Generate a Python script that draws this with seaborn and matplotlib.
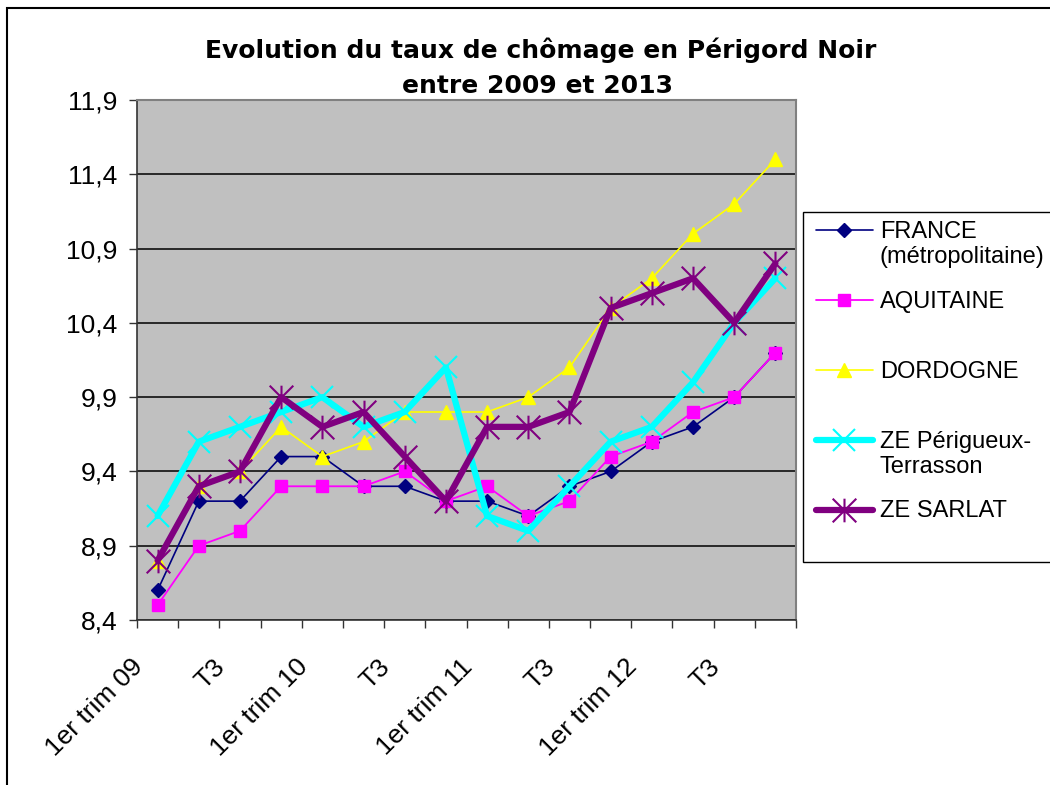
import numpy as np
import matplotlib
matplotlib.use("Agg")
import matplotlib.pyplot as plt
from matplotlib.path import Path
from matplotlib.patches import Rectangle
from matplotlib.ticker import FixedLocator, FuncFormatter, NullFormatter
from matplotlib.legend_handler import HandlerLine2D
from matplotlib.transforms import ScaledTranslation
import seaborn as sns

# ---------------- data ----------------
quarters = ["1er trim 09", "T2 09", "T3", "T4 09",
            "1er trim 10", "T2 10", "T3", "T4 10",
            "1er trim 11", "T2 11", "T3", "T4 11",
            "1er trim 12", "T2 12", "T3", "T4 12"]
tick_labels = ["1er trim 09", "T3", "1er trim 10", "T3",
               "1er trim 11", "T3", "1er trim 12", "T3"]

france = [8.6, 9.2, 9.2, 9.5, 9.5, 9.3, 9.3, 9.2,
          9.2, 9.1, 9.3, 9.4, 9.6, 9.7, 9.9, 10.2]
aquitaine = [8.5, 8.9, 9.0, 9.3, 9.3, 9.3, 9.4, 9.2,
             9.3, 9.1, 9.2, 9.5, 9.6, 9.8, 9.9, 10.2]
dordogne = [8.8, 9.3, 9.4, 9.7, 9.5, 9.6, 9.8, 9.8,
            9.8, 9.9, 10.1, 10.5, 10.7, 11.0, 11.2, 11.5]
ze_perigueux = [9.1, 9.6, 9.7, 9.8, 9.9, 9.7, 9.8, 10.1,
                9.1, 9.0, 9.3, 9.6, 9.7, 10.0, 10.4, 10.7]
ze_sarlat = [8.8, 9.3, 9.4, 9.9, 9.7, 9.8, 9.5, 9.2,
             9.7, 9.7, 9.8, 10.5, 10.6, 10.7, 10.4, 10.8]

series_names = ["FRANCE\n(métropolitaine)", "AQUITAINE", "DORDOGNE",
                "ZE Périgueux-\nTerrasson", "ZE SARLAT"]
y_ticks = [8.4, 8.9, 9.4, 9.9, 10.4, 10.9, 11.4, 11.9]

# ---------------- style ----------------
sns.set_theme(style="white")
plt.rcParams["font.family"] = ["Liberation Sans", "DejaVu Sans"]
plt.rcParams["text.color"] = "black"
plt.rcParams["xtick.color"] = "black"
plt.rcParams["ytick.color"] = "black"

fig = plt.figure(figsize=(10.5, 7.85), dpi=100)
ax = fig.add_axes([137 / 1050, 1 - 620 / 785, (796 - 137) / 1050, (620 - 100) / 785])
ax.set_facecolor("#C0C0C0")

star = Path([(0, -1), (0, 1), (-1, -1), (1, 1), (-1, 1), (1, -1)],
            [Path.MOVETO, Path.LINETO, Path.MOVETO, Path.LINETO, Path.MOVETO, Path.LINETO])

styles = [
    dict(color="#000080", marker="D", lw=1.2, ms=7.5, mew=1),
    dict(color="#FF00FF", marker="s", lw=1.3, ms=8.5, mew=1),
    dict(color="#FFFF00", marker="^", lw=1.2, ms=10.5, mew=1),
    dict(color="#00FFFF", marker="x", lw=4.5, ms=16, mew=1.5),
    dict(color="#800080", marker=star, lw=4.5, ms=17, mew=1.5),
]
all_series = [france, aquitaine, dordogne, ze_perigueux, ze_sarlat]
xpos = np.arange(len(quarters))

for name, vals, st in zip(series_names, all_series, styles):
    sns.lineplot(x=xpos, y=np.array(vals), ax=ax, color=st["color"],
                 marker=st["marker"], linewidth=st["lw"], markersize=st["ms"],
                 markeredgecolor=st["color"], markerfacecolor=st["color"],
                 markeredgewidth=st["mew"], label=name, sort=False, zorder=3)

# axes
ax.set_yticks(y_ticks)
ax.yaxis.set_major_formatter(FuncFormatter(lambda v, p: f"{v:.1f}".replace(".", ",")))
ax.grid(axis="y", color="black", linewidth=1.1, zorder=1)
ax.set_axisbelow(True)
ax.tick_params(axis="y", which="major", length=6, width=1, color="#333333",
               labelsize=19, pad=8, left=True, direction="out", labelcolor="black")

# tick marks between categories, labels every other category
ax.xaxis.set_major_locator(FixedLocator(np.arange(-0.5, len(quarters), 1.0)))
ax.xaxis.set_major_formatter(NullFormatter())
ax.set_xticks(xpos[::2], labels=tick_labels, minor=True)
ax.tick_params(axis="x", which="major", length=6, width=1, color="#333333",
               bottom=True, direction="out")
ax.tick_params(axis="x", which="minor", length=0, labelsize=19, pad=25,
               labelcolor="black")
ax.set_xlim(-0.5, len(quarters) - 0.5)
ax.set_ylim(8.4, 11.9)

shift = ScaledTranslation(-27 / 100, 0, fig.dpi_scale_trans)
for lab in ax.get_xticklabels(minor=True):
    lab.set_rotation(45)
    lab.set_ha("right")
    lab.set_va("top")
    lab.set_rotation_mode("anchor")
    lab.set_transform(lab.get_transform() + shift)
ax.set_xlabel("")
ax.set_ylabel("")

for side in ["top", "right"]:
    ax.spines[side].set_color("#808080")
    ax.spines[side].set_linewidth(1.5)
for side in ["left", "bottom"]:
    ax.spines[side].set_color("#333333")
    ax.spines[side].set_linewidth(1.2)


# legend: handle aligned with the first line of each (two-line) entry
class FirstLineHandler(HandlerLine2D):
    def __init__(self, dy, **kw):
        super().__init__(**kw)
        self.dy = dy

    def create_artists(self, legend, orig_handle, xdescent, ydescent, width,
                       height, fontsize, trans):
        return super().create_artists(legend, orig_handle, xdescent,
                                      ydescent - 2 * self.dy, width, height,
                                      fontsize, trans)


handles, labels = ax.get_legend_handles_labels()
labels = [l if "\n" in l else l + "\n " for l in labels]
hmap = {h: FirstLineHandler(10.5) for h in handles}
ax.add_patch(Rectangle((803 / 1050, 1 - 562 / 785), 0.3, (562 - 212) / 785,
                       transform=fig.transFigure, clip_on=False,
                       facecolor="white", edgecolor="black", linewidth=1.0,
                       zorder=4.5))
leg = ax.legend(handles, labels, handler_map=hmap, loc="upper left",
                bbox_to_anchor=(809 / 1050, 1 - 214 / 785),
                bbox_transform=fig.transFigure, fontsize=17, frameon=False,
                handlelength=2.4, handletextpad=0.3,
                labelspacing=0.95, borderpad=0.3, borderaxespad=0)
leg.set_zorder(5)

# title
fig.text(541 / 1050, 1 - 50 / 785, "Evolution du taux de chômage en Périgord Noir",
         ha="center", va="center", fontsize=18, fontweight="bold",
         family="DejaVu Sans", color="black")
fig.text(537 / 1050, 1 - 86 / 785, "entre 2009 et 2013",
         ha="center", va="center", fontsize=18, fontweight="bold",
         family="DejaVu Sans", color="black")

# outer chart border
fig.patches.append(Rectangle((7 / 1050, -0.05), 1.2, 1 - 8 / 785 + 0.05,
                             transform=fig.transFigure, fill=False,
                             edgecolor="black", linewidth=1.5, zorder=0))

fig.savefig("out.png", dpi=100)
